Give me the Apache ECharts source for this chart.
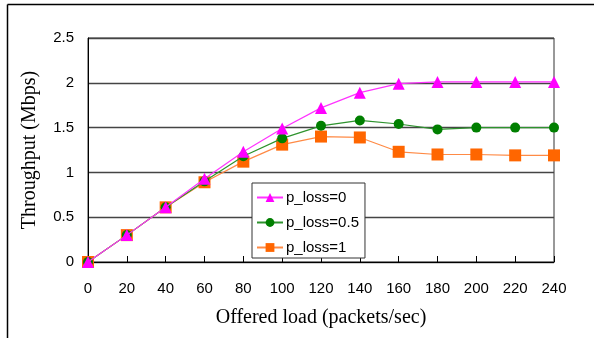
<!DOCTYPE html>
<html><head><meta charset="utf-8">
<script src="https://cdn.jsdelivr.net/npm/echarts@6/dist/echarts.min.js"></script>
<style>html,body{margin:0;padding:0;background:#fff}#c{width:594px;height:338px}</style>
</head><body><div id="c"></div>
<script>
const categories = [0,20,40,60,80,100,120,140,160,180,200,220,240];
const loss0 = [0,0.30,0.61,0.93,1.23,1.49,1.72,1.89,1.99,2.01,2.01,2.01,2.01];
const loss05 = [0,0.30,0.61,0.90,1.18,1.38,1.52,1.58,1.54,1.48,1.50,1.50,1.50];
const loss1 = [0,0.30,0.61,0.89,1.12,1.31,1.40,1.39,1.23,1.20,1.20,1.19,1.19];
const yTicks = [0,0.5,1,1.5,2,2.5];
const names = ['p_loss=0','p_loss=0.5','p_loss=1'];

const chart = echarts.init(document.getElementById('c'));
const pair = a => a.map((v,i)=>[categories[i], v]);
const tickFont = {fontFamily:'Liberation Sans, Arial, sans-serif', fontSize:15, color:'#000'};
chart.setOption({
  animation:false,
  graphic:[
    {type:'line', shape:{x1:7.5,y1:4.5,x2:594,y2:4.5}, style:{stroke:'#000',lineWidth:1.5}},
    {type:'line', shape:{x1:7.5,y1:4.5,x2:7.5,y2:338}, style:{stroke:'#000',lineWidth:1.5}}
  ],
  grid:{left:88,right:40,top:38,bottom:76,show:true,borderColor:'#333',borderWidth:1,backgroundColor:'#fff'},
  legend:{
    orient:'vertical', left:252, top:183, width:111,
    backgroundColor:'#fff', borderColor:'#333', borderWidth:1,
    padding:[7,6,3,4], itemGap:10, itemWidth:26, itemHeight:11,
    textStyle:{fontFamily:'Liberation Sans, Arial, sans-serif', fontSize:15, color:'#000', padding:[0,0,0,-2]},
    data:names
  },
  xAxis:{
    type:'value', min:0, max:240, interval:20,
    name:'Offered load (packets/sec)', nameLocation:'middle', nameGap:46,
    nameTextStyle:{fontFamily:'Liberation Serif, Times New Roman, serif', fontSize:20, color:'#000'},
    axisLine:{lineStyle:{color:'#000',width:1}},
    axisTick:{inside:true,length:6,lineStyle:{color:'#000'}},
    axisLabel:Object.assign({margin:19, formatter:v=>String(v)}, tickFont),
    splitLine:{show:false}
  },
  yAxis:{
    type:'value', min:0, max:2.5, interval:0.5,
    name:'Throughput (Mbps)', nameLocation:'middle', nameGap:48,
    nameTextStyle:{fontFamily:'Liberation Serif, Times New Roman, serif', fontSize:20, color:'#000'},
    axisLine:{show:true,lineStyle:{color:'#000',width:1}},
    axisTick:{show:false},
    axisLabel:Object.assign({margin:14, formatter:v=>String(v)}, tickFont),
    splitLine:{show:true,lineStyle:{color:'#444',width:1.3}}
  },
  series:[
    {name:names[0], type:'line', data:pair(loss0), symbol:'triangle', symbolSize:12,
     itemStyle:{color:'#FF00FF'}, lineStyle:{color:'#FF33FF',width:1.2}, z:4},
    {name:names[1], type:'line', data:pair(loss05), symbol:'circle', symbolSize:10,
     itemStyle:{color:'#007F00'}, lineStyle:{color:'#2E932E',width:1.2}, z:3},
    {name:names[2], type:'line', data:pair(loss1), symbol:'rect', symbolSize:12,
     itemStyle:{color:'#FF6600'}, lineStyle:{color:'#FF8A45',width:1.2}, z:2}
  ]
});
</script></body></html>
